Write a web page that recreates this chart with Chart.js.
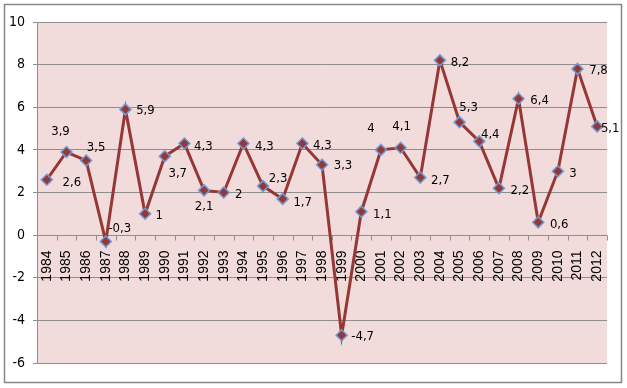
<!DOCTYPE html>
<html>
<head>
<meta charset="utf-8">
<script src="https://cdn.jsdelivr.net/npm/chart.js@4"></script>
<style>
  html, body { margin: 0; padding: 0; background: #ffffff; }
  #wrap { width: 627px; height: 388px; }
</style>
</head>
<body>
<div id="wrap"><canvas id="growthChart"></canvas></div>
<script>
const years = ["1984", "1985", "1986", "1987", "1988", "1989", "1990", "1991", "1992", "1993",
  "1994", "1995", "1996", "1997", "1998", "1999", "2000", "2001", "2002", "2003",
  "2004", "2005", "2006", "2007", "2008", "2009", "2010", "2011", "2012"];
const growth = [2.6, 3.9, 3.5, -0.3, 5.9, 1, 3.7, 4.3, 2.1, 2, 4.3, 2.3, 1.7, 4.3, 3.3,
  -4.7, 1.1, 4, 4.1, 2.7, 8.2, 5.3, 4.4, 2.2, 6.4, 0.6, 3, 7.8, 5.1];
const yMin = -6;
const yMax = 10;
const yStep = 2;

// where each value label sits relative to its marker (centre offset, px)
const labelOffsets = [
  [25, 3], [-6, -20], [10, -13], [14, -13], [20, 1], [14, 2], [13, 17], [19, 3], [0, 16], [15, 2],
  [21, 3], [15, -7], [20, 4], [20, 2], [21, 1], [21, 1], [21, 3], [-10, -21], [1, -21], [20, 3],
  [20, 2], [9, -15], [11, -7], [21, 2], [21, 2], [21, 2], [15, 2], [21, 2], [13, 2]
];

const narrowFont = "'Liberation Sans Narrow', 'DejaVu Sans Condensed', 'Liberation Sans', sans-serif";
const lineColor = "#953735";
const gridColor = "#8e8e8e";

const fmt = (v) => String(v).replace(".", ",");

const frameAndBackground = {
  id: "frameAndBackground",
  beforeDraw(chart) {
    const { ctx, chartArea } = chart;
    ctx.save();
    ctx.fillStyle = "#ffffff";
    ctx.fillRect(0, 0, chart.width, chart.height);
    ctx.strokeStyle = "#868686";
    ctx.lineWidth = 1.5;
    ctx.strokeRect(4.5, 4.5, 617, 378);
    ctx.fillStyle = "#f2dcdb";
    ctx.fillRect(chartArea.left, chartArea.top, chartArea.right - chartArea.left, chartArea.bottom - chartArea.top);
    ctx.restore();
  }
};

// category axis drawn on the zero line, labels rotated inside the plot
const zeroAxis = {
  id: "zeroAxis",
  beforeDatasetsDraw(chart) {
    const { ctx } = chart;
    const xScale = chart.scales.x;
    const yScale = chart.scales.y;
    const y0 = Math.round(yScale.getPixelForValue(0)) + 0.5;
    ctx.save();
    ctx.strokeStyle = gridColor;
    ctx.lineWidth = 1;
    ctx.beginPath();
    ctx.moveTo(xScale.left, y0);
    ctx.lineTo(xScale.right, y0);
    for (let i = 0; i <= years.length; i++) {
      const x = Math.round(xScale.getPixelForValue(i - 0.5)) + 0.5;
      ctx.moveTo(x, y0);
      ctx.lineTo(x, y0 + 5);
    }
    ctx.stroke();
    ctx.fillStyle = "#000000";
    ctx.font = "14px 'Liberation Sans', sans-serif";
    ctx.textAlign = "right";
    ctx.textBaseline = "middle";
    years.forEach((year, i) => {
      const x = xScale.getPixelForValue(i);
      ctx.save();
      ctx.translate(x, y0 + 15);
      ctx.rotate(-Math.PI / 2);
      ctx.fillText(year, 0, 0);
      ctx.restore();
    });
    ctx.restore();
  }
};

const valueLabels = {
  id: "valueLabels",
  afterDatasetsDraw(chart) {
    const { ctx } = chart;
    const meta = chart.getDatasetMeta(0);
    ctx.save();
    ctx.fillStyle = "#000000";
    ctx.font = "13px " + narrowFont;
    ctx.textAlign = "center";
    ctx.textBaseline = "middle";
    meta.data.forEach((pt, i) => {
      const [dx, dy] = labelOffsets[i];
      ctx.fillText(fmt(growth[i]), pt.x + dx, pt.y + dy);
    });
    ctx.restore();
  }
};

new Chart(document.getElementById("growthChart"), {
  type: "line",
  data: {
    labels: years,
    datasets: [{
      data: growth,
      borderColor: lineColor,
      borderWidth: 3,
      tension: 0,
      pointStyle: "rectRot",
      pointRadius: 5.5,
      pointBackgroundColor: lineColor,
      pointBorderColor: "#6f9bd6",
      pointBorderWidth: 1.5,
      clip: false
    }]
  },
  options: {
    responsive: true,
    maintainAspectRatio: false,
    animation: false,
    events: [],
    layout: { padding: { top: 22, right: 20, bottom: 25, left: 0 } },
    plugins: {
      legend: { display: false },
      tooltip: { enabled: false }
    },
    scales: {
      x: {
        type: "category",
        offset: true,
        display: false
      },
      y: {
        min: yMin,
        max: yMax,
        afterFit(scale) { scale.width = 37; },
        ticks: {
          stepSize: yStep,
          padding: 8,
          color: "#000000",
          font: { family: narrowFont, size: 14 },
          callback: (v) => fmt(v)
        },
        grid: { color: gridColor, lineWidth: 1, tickLength: 4 },
        border: { display: true, color: gridColor }
      }
    }
  },
  plugins: [frameAndBackground, zeroAxis, valueLabels]
});
</script>
</body>
</html>
